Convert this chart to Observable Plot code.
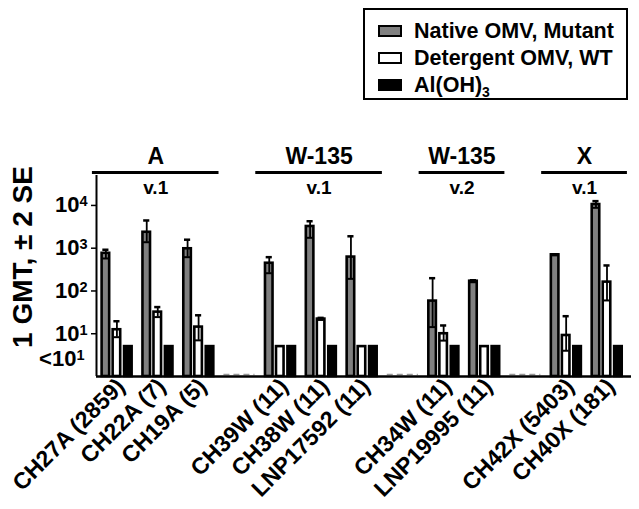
<!DOCTYPE html>
<html><head><meta charset="utf-8">
<script src="https://cdn.jsdelivr.net/npm/d3@7"></script>
<script src="https://cdn.jsdelivr.net/npm/@observablehq/plot@0.6"></script>
<style>
body{margin:0;background:#fff;font-family:"Liberation Sans",Arial,sans-serif;}
#wrap{position:relative;width:639px;height:509px;overflow:hidden;}
#legend{position:absolute;left:363px;top:8px;width:261px;height:88px;border:2px solid #000;background:#fff;}
#legend .row{position:absolute;left:0;right:0;height:26px;}
#legend .sw{position:absolute;left:13px;top:7px;width:24px;height:12px;box-sizing:border-box;border:2.5px solid #000;}
#legend .lab{position:absolute;left:49px;top:0;font-size:21.5px;font-weight:bold;line-height:26px;white-space:nowrap;}
#legend sub{font-size:14px;line-height:0;}
</style></head><body>
<div id="wrap"><div id="legend"></div></div>
<script>
// ---- data ----
const categories = ["CH27A (2859)", "CH22A (7)", "CH19A (5)", null, "CH39W (11)", "CH38W (11)", "LNP17592 (11)", null, "CH34W (11)", "LNP19995 (11)", null, "CH42X (5403)", "CH40X (181)"];
const series = ["Native OMV, Mutant", "Detergent OMV, WT", "Al(OH)3"];
const nativeGMT = [760, 2360, 970, null, 445, 3220, 620, null, 58, 169, null, 700, 10500];
const nativeLo  = [575, 1380, 617, null, 260, 1750, 192, null, 14.3, 160, null, 680, 8800];
const nativeHi  = [920, 4450, 1580, null, 617, 4270, 1900, null, 199, 178, null, 720, 12600];
const detGMT = [12.4, 32, 14.3, null, 5, 22, 5, null, 10, 5, null, 9.1, 161];
const detLo  = [8.3, 24.5, 7, null, null, 21, null, null, 6.9, null, null, 4, 60];
const detHi  = [19.6, 42, 27, null, null, 23.5, null, null, 15.6, null, null, 25.7, 395];
const alumGMT = [5, 5, 5, null, 5, 5, 5, null, 5, 5, null, 5, 5];
const groupNames = ["A", "W-135", "W-135", "X"];
const groupVersions = ["v.1", "v.1", "v.2", "v.1"];
const groupFirst = ["CH27A (2859)", "CH39W (11)", "CH34W (11)", "CH42X (5403)"];
const groupLast = ["CH19A (5)", "LNP17592 (11)", "LNP19995 (11)", "CH40X (181)"];
const yTicks = [10, 100, 1000, 10000];
const yTickLabels = ["10¹", "10²", "10³", "10⁴"];
const belowValue = 2.6;
const belowLabel = "<10¹";
const yTitle = "1 GMT, ± 2 SE";

// ---- styles ----
const colors = ["#808080", "#ffffff", "#000000"];
const offsets = [-0.27, 0, 0.28];
const barW = 0.185;
const font = '"Liberation Sans", Arial, sans-serif';

// ---- build rows ----
const valueArrays = [nativeGMT, detGMT, alumGMT];
const loArrays = [nativeLo, detLo, alumGMT.map(() => null)];
const hiArrays = [nativeHi, detHi, alumGMT.map(() => null)];
const rows = [];
categories.forEach((c, i) => {
  if (c == null) return;
  series.forEach((s, k) => {
    rows.push({i, s, k, value: valueArrays[k][i], lo: loArrays[k][i], hi: hiArrays[k][i]});
  });
});
const errRows = rows.filter(d => d.lo != null && d.hi != null);
const gapIdx = categories.map((c, i) => c == null ? i : null).filter(i => i != null);
const realIdx = categories.map((c, i) => c == null ? null : i).filter(i => i != null);
const groups = groupNames.map((g, j) => {
  const first = categories.indexOf(groupFirst[j]), last = categories.indexOf(groupLast[j]);
  return {name: g, version: groupVersions[j], x1: first - 0.6, x2: last + 0.5};
});
const yMax = 10 ** 4.7;
const cx = d => d.i + offsets[d.k];
const yLabs = yTicks.map((v, j) => ({v, label: yTickLabels[j]}));

const chart = Plot.plot({
  width: 639, height: 509,
  marginTop: 175, marginBottom: 133, marginLeft: 96, marginRight: 8,
  style: {fontFamily: font, fontWeight: "bold", background: "transparent", color: "#000"},
  x: {type: "linear", domain: [-0.5, 12.6], axis: null},
  y: {type: "log", domain: [1, yMax], axis: null},
  color: {domain: series, range: colors},
  marks: [
    Plot.rect(rows, {x1: d => cx(d) - barW / 2, x2: d => cx(d) + barW / 2, y1: () => 1, y2: "value", fill: "s", stroke: "#000", strokeWidth: 2.6}),
    Plot.ruleX(errRows, {x: cx, y1: "lo", y2: "hi", stroke: "#000", strokeWidth: 1.8}),
    Plot.ruleY(errRows, {y: "hi", x1: d => cx(d) - 0.075, x2: d => cx(d) + 0.075, stroke: "#000", strokeWidth: 2.5}),
    Plot.ruleY(errRows, {y: "lo", x1: d => cx(d) - 0.075, x2: d => cx(d) + 0.075, stroke: "#000", strokeWidth: 2}),
    Plot.ruleY(gapIdx, {y: () => 1, x1: i => i - 0.38, x2: i => i + 0.38, stroke: "#999", strokeWidth: 1.5, strokeDasharray: "6,4", dy: -2}),
    Plot.ruleY([1], {strokeWidth: 2.5}),
    Plot.ruleX([-0.5], {strokeWidth: 2}),
    Plot.axisY({ticks: yTicks, tickFormat: () => "", tickSize: 5, strokeWidth: 1.5}),
    Plot.text(yLabs, {y: "v", text: "label", frameAnchor: "left", textAnchor: "end", lineAnchor: "middle", dx: -9, fontSize: 22, fontWeight: "bold"}),
    Plot.text([belowLabel], {y: () => belowValue, text: d => d, frameAnchor: "left", textAnchor: "end", lineAnchor: "middle", dx: -12, fontSize: 22, fontWeight: "bold"}),
    Plot.axisX({ticks: realIdx, tickFormat: i => categories[i], tickRotate: -45, tickSize: 0, tickPadding: 6, dx: 4, fontSize: 23, fontWeight: "bold"}),
    Plot.text([yTitle], {frameAnchor: "left", textAnchor: "middle", lineAnchor: "middle", rotate: -90, dx: -73, dy: -19, fontSize: 28, fontWeight: "bold", text: d => d}),
    Plot.ruleY(groups, {y: () => yMax, x1: "x1", x2: "x2", strokeWidth: 3, dy: -3}),
    Plot.text(groups, {x: d => (d.x1 + d.x2) / 2, frameAnchor: "top", lineAnchor: "bottom", dy: -12, text: "name", fontSize: 23, fontWeight: "bold"}),
    Plot.text(groups, {x: d => (d.x1 + d.x2) / 2, frameAnchor: "top", lineAnchor: "bottom", dy: 18, text: "version", fontSize: 19, fontWeight: "bold"})
  ]
});
document.getElementById("wrap").prepend(chart);

// render superscript exponents as raised tspans
const supMap = {"¹": "1", "²": "2", "³": "3", "⁴": "4"};
d3.select(chart).selectAll("text").each(function () {
  const t = this.textContent;
  const m = t.match(/^(.*10)([¹²³⁴])$/);
  if (!m || this.children.length) return;
  const sel = d3.select(this);
  sel.text(m[1]);
  sel.append("tspan").attr("dy", "-0.42em").attr("font-size", "0.66em").text(supMap[m[2]]);
});

// legend
const legend = d3.select("#legend");
series.forEach((s, k) => {
  const row = legend.append("div").attr("class", "row").style("top", (8 + k * 27) + "px");
  row.append("span").attr("class", "sw").style("background", colors[k]);
  const lab = row.append("span").attr("class", "lab");
  const m = s.match(/^(.*?)(\d)$/);
  if (s.startsWith("Al(OH)") && m) { lab.text(m[1]); lab.append("sub").text(m[2]); }
  else lab.text(s);
});
</script>
</body></html>
